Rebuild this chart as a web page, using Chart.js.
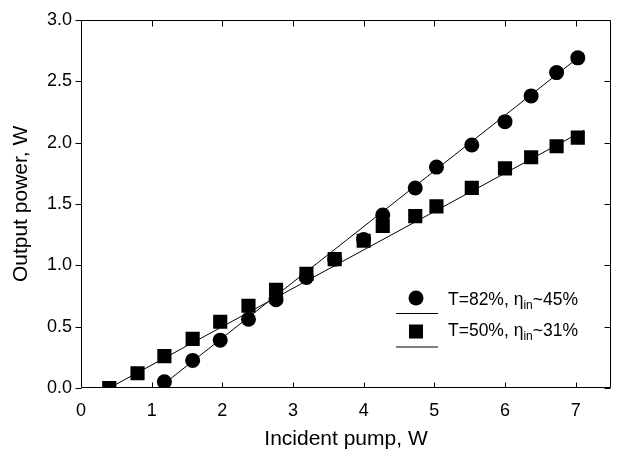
<!DOCTYPE html>
<html>
<head>
<meta charset="utf-8">
<script src="https://cdn.jsdelivr.net/npm/chart.js@4"></script>
<style>
  html, body { margin: 0; padding: 0; background: #fff; }
  #wrap { width: 621px; height: 452px; }
</style>
</head>
<body>
<div id="wrap"><canvas id="chart" width="621" height="452"></canvas></div>
<script>
// Measured points (incident pump, W)
const pumpAll = [0.4, 0.8, 1.18, 1.58, 1.97, 2.37, 2.76, 3.19, 3.59, 4.0, 4.27, 4.73, 5.03, 5.53, 6.0, 6.37, 6.73, 7.03];
const pumpT82 = [1.18, 1.58, 1.97, 2.37, 2.76, 3.19, 3.59, 4.0, 4.27, 4.73, 5.03, 5.53, 6.0, 6.37, 6.73, 7.03];

// Output power, W
const powerT82 = [0.05, 0.225, 0.39, 0.56, 0.72, 0.90, 1.05, 1.21, 1.41, 1.63, 1.80, 1.98, 2.17, 2.38, 2.57, 2.69];
const powerT50 = [0.0, 0.12, 0.26, 0.40, 0.54, 0.67, 0.80, 0.93, 1.05, 1.20, 1.32, 1.40, 1.48, 1.63, 1.79, 1.88, 1.97, 2.04];

// Linear fit lines (end points)
const fitT82X = [1.1, 7.12];
const fitT82Y = [0.0, 2.73];
const fitT50X = [0.4, 7.12];
const fitT50Y = [0.0, 2.10];

const xTicks = [0, 1, 2, 3, 4, 5, 6, 7];
const yTicks = [0.0, 0.5, 1.0, 1.5, 2.0, 2.5, 3.0];

const legendItems = [
    { text: 'T=82%, ', sub: 'in', rest: '~45%', style: 'circle' },
    { text: 'T=50%, ', sub: 'in', rest: '~31%', style: 'rect' }
];

const FONT = 'Liberation Sans, Arial, Helvetica, sans-serif';

function toXY(xs, ys) {
    return xs.map((x, i) => ({ x: x, y: ys[i] }));
}

// Frame, inward ticks and the legend
const framePlugin = {
    id: 'frame',
    afterDraw(chart) {
        const ctx = chart.ctx;
        const a = chart.chartArea;
        const xs = chart.scales.x;
        const ys = chart.scales.y;
        ctx.save();
        ctx.strokeStyle = '#000';
        ctx.lineWidth = 1;
        const L = Math.round(a.left) + 0.5;
        const R = Math.round(a.right) - 0.5;
        const T = Math.round(a.top) + 0.5;
        const B = Math.round(a.bottom) - 0.5;
        ctx.beginPath();
        ctx.rect(L, T, R - L, B - T);
        ctx.stroke();

        ctx.beginPath();
        xTicks.forEach(v => {
            const px = Math.round(xs.getPixelForValue(v)) + 0.5;
            ctx.moveTo(px, B); ctx.lineTo(px, B - 5);
            ctx.moveTo(px, T); ctx.lineTo(px, T + 6);
        });
        yTicks.forEach(v => {
            const py = Math.round(ys.getPixelForValue(v)) + 0.5;
            ctx.moveTo(L, py); ctx.lineTo(L - 6, py);
            ctx.moveTo(R, py); ctx.lineTo(R - 6, py);
        });
        ctx.stroke();

        // legend: symbol above a short line sample, then the label
        const symX = 416;
        const textX = 448;
        const rows = [298, 331.5];
        const baselines = [304.5, 335.5];
        legendItems.forEach((item, i) => {
            const cy = rows[i];
            ctx.fillStyle = '#000';
            if (item.style === 'circle') {
                ctx.beginPath();
                ctx.arc(symX, cy, 7.5, 0, Math.PI * 2);
                ctx.fill();
            } else {
                ctx.fillRect(symX - 7, cy - 7, 14, 14);
            }
            ctx.beginPath();
            ctx.moveTo(396, cy + 15.5);
            ctx.lineTo(438, cy + 15.5);
            ctx.stroke();

            ctx.textBaseline = 'alphabetic';
            ctx.textAlign = 'left';
            ctx.font = '17.5px ' + FONT;
            let x = textX;
            const base = baselines[i];
            ctx.fillText(item.text, x, base);
            x += ctx.measureText(item.text).width;
            ctx.fillText('\u03B7', x, base);
            x += ctx.measureText('\u03B7').width;
            ctx.font = '12px ' + FONT;
            ctx.fillText(item.sub, x, base + 4);
            x += ctx.measureText(item.sub).width;
            ctx.font = '17.5px ' + FONT;
            ctx.fillText(item.rest, x, base);
        });
        ctx.restore();
    }
};

const ctx = document.getElementById('chart').getContext('2d');
const chart = new Chart(ctx, {
    type: 'scatter',
    data: {
        datasets: [
            {
                label: 'T=82% fit',
                data: toXY(fitT82X, fitT82Y),
                showLine: true,
                borderColor: '#000',
                borderWidth: 1,
                pointRadius: 0
            },
            {
                label: 'T=50% fit',
                data: toXY(fitT50X, fitT50Y),
                showLine: true,
                borderColor: '#000',
                borderWidth: 1,
                pointRadius: 0
            },
            {
                label: 'T=82%',
                data: toXY(pumpT82, powerT82),
                pointStyle: 'circle',
                pointRadius: 7.5,
                backgroundColor: '#000',
                borderColor: '#000',
                borderWidth: 0
            },
            {
                label: 'T=50%',
                data: toXY(pumpAll, powerT50),
                pointStyle: 'rect',
                pointRadius: 10,
                backgroundColor: '#000',
                borderColor: '#000',
                borderWidth: 0
            }
        ]
    },
    options: {
        responsive: false,
        animation: false,
        devicePixelRatio: 1,
        layout: { padding: { top: 16, right: 1, left: 0, bottom: 0 } },
        plugins: {
            legend: { display: false },
            tooltip: { enabled: false }
        },
        scales: {
            x: {
                type: 'linear',
                min: 0,
                max: 7.5,
                afterFit(scale) { scale.height = 64; },
                afterBuildTicks(scale) { scale.ticks = xTicks.map(v => ({ value: v })); },
                grid: { display: false, drawTicks: false },
                border: { display: false },
                ticks: {
                    color: '#000',
                    padding: 12,
                    font: { family: FONT, size: 18 },
                    callback: v => String(v)
                },
                title: {
                    display: true,
                    text: 'Incident pump, W',
                    color: '#000',
                    font: { family: FONT, size: 21 },
                    padding: { top: 0, bottom: 0 }
                }
            },
            y: {
                type: 'linear',
                min: 0,
                max: 3,
                afterFit(scale) { scale.width = 81; },
                afterBuildTicks(scale) { scale.ticks = yTicks.map(v => ({ value: v })); },
                grid: { display: false, drawTicks: false },
                border: { display: false },
                ticks: {
                    color: '#000',
                    padding: 9,
                    font: { family: FONT, size: 18 },
                    callback: v => v.toFixed(1)
                },
                title: {
                    display: true,
                    text: 'Output power, W',
                    color: '#000',
                    font: { family: FONT, size: 21 },
                    padding: { top: 9, bottom: 0 }
                }
            }
        }
    },
    plugins: [framePlugin]
});
</script>
</body>
</html>
